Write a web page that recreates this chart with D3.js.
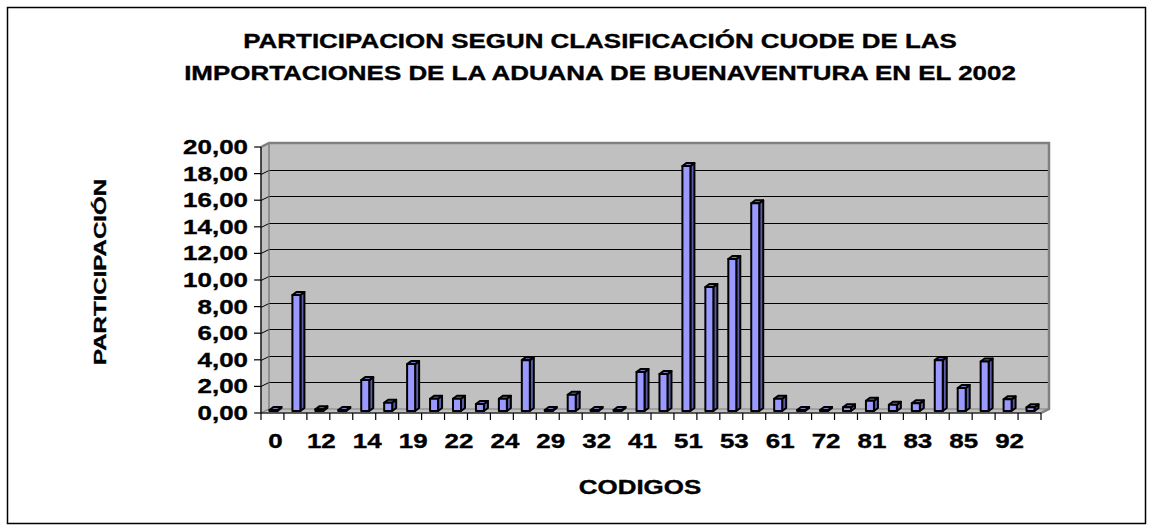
<!DOCTYPE html>
<html>
<head>
<meta charset="utf-8">
<script src="https://cdn.jsdelivr.net/npm/d3@7"></script>
<style>
  html, body { margin: 0; padding: 0; background: #fff; }
  svg { display: block; }
  text { font-family: "Liberation Sans", Arial, sans-serif; font-weight: bold; fill: #000; stroke: #000; stroke-width: 0.35px; }
</style>
</head>
<body>
<svg id="chart" width="1153" height="531"></svg>
<script>
// ---- data ----
const categories = ["0","11","12","13","14","15","19","21","22","23","24","25","29","31","32","33","41","42","51","52","53","55","61","71","72","73","81","82","83","84","85","91","92","93"];
const values = [0.05,8.8,0.2,0.1,2.4,0.7,3.6,1.0,1.0,0.6,1.0,3.9,0.05,1.3,0.05,0.05,3.0,2.85,18.5,9.4,11.5,15.7,1.0,0.15,0.05,0.35,0.85,0.55,0.65,3.9,1.8,3.8,0.95,0.35];
const yTicks = [0,2,4,6,8,10,12,14,16,18,20];
const titleLines = ["PARTICIPACION SEGUN CLASIFICACIÓN CUODE DE LAS", "IMPORTACIONES DE LA ADUANA DE BUENAVENTURA EN EL 2002"];
const xTitle = "CODIGOS";
const yTitle = "PARTICIPACIÓN";

// ---- layout ----
const svg = d3.select("#chart");
const X0 = 261, X1 = 1041, Y0 = 413, Y1 = 147;
const DX = 8, DY = -4;          // wall depth
const SX = 1.33;                // horizontal text stretch
const x = d3.scaleBand().domain(categories).range([X0, X1]).padding(0);
const y = d3.scaleLinear().domain([0, 20]).range([Y0, Y1]);
const fmt = v => d3.format(".2f")(v).replace(".", ",");

// outer border
svg.append("rect").attr("x", 7.5).attr("y", 7.5).attr("width", 1138).attr("height", 516)
  .attr("fill", "#fff").attr("stroke", "#000").attr("stroke-width", 1.5);

function stext(tx, ty, str, size, anchor, sx) {
  return svg.append("text")
    .attr("transform", `translate(${tx},${ty}) scale(${sx === undefined ? SX : sx},1)`)
    .attr("text-anchor", anchor).attr("font-size", size).text(str);
}

// title
stext(600, 48, titleLines[0], 19.5, "middle");
stext(600, 80, titleLines[1], 19.5, "middle");

// walls
const g = svg.append("g");
g.append("rect").attr("x", X0 + DX).attr("y", Y1 + DY).attr("width", X1 - X0).attr("height", Y0 - Y1)
  .attr("fill", "#C0C0C0");
g.append("polygon")
  .attr("points", [[X0, Y1], [X0 + DX, Y1 + DY], [X0 + DX, Y0 + DY], [X0, Y0]].join(" "))
  .attr("fill", "#C0C0C0").attr("stroke", "#808080").attr("stroke-width", 1);
g.append("polygon")
  .attr("points", [[X0, Y0], [X0 + DX, Y0 + DY], [X1 + DX, Y0 + DY], [X1, Y0]].join(" "))
  .attr("fill", "#C0C0C0").attr("stroke", "#808080").attr("stroke-width", 1);

// gridlines
yTicks.filter(v => v > 0 && v < 20).forEach(v => {
  const yy = Math.round(y(v)) + 0.5;
  g.append("line").attr("x1", X0 + DX).attr("x2", X1 + DX).attr("y1", yy + DY).attr("y2", yy + DY)
    .attr("stroke", "#000").attr("stroke-width", 1);
  g.append("line").attr("x1", X0).attr("x2", X0 + DX).attr("y1", yy).attr("y2", yy + DY)
    .attr("stroke", "#000").attr("stroke-width", 1);
});
g.append("polyline")
  .attr("points", [[X0, Y1], [X0 + DX, Y1 + DY], [X1 + DX, Y1 + DY], [X1 + DX, Y0 + DY], [X1, Y0]].join(" "))
  .attr("fill", "none").attr("stroke", "#808080").attr("stroke-width", 2.5);
g.append("line").attr("x1", X0 + DX).attr("x2", X0 + DX).attr("y1", Y1 + DY).attr("y2", Y0 + DY)
  .attr("stroke", "#808080").attr("stroke-width", 1);

// bars (3D columns)
const BW = 8, BDX = 4, BDY = -3;
const bars = svg.append("g").attr("stroke", "#000").attr("stroke-width", 2).attr("stroke-linejoin", "round");
categories.forEach((c, i) => {
  const cx = x(c) + x.bandwidth() / 2;
  const bx = cx - 3;
  const yb = Y0 - 2, yt = Math.min(y(values[i]) - 1, yb - 1);
  bars.append("polygon")
    .attr("points", [[bx + BW, yb], [bx + BW + BDX, yb + BDY], [bx + BW + BDX, yt + BDY], [bx + BW, yt]].join(" "))
    .attr("fill", "#5C5CA6");
  bars.append("polygon")
    .attr("points", [[bx, yt], [bx + BDX, yt + BDY], [bx + BW + BDX, yt + BDY], [bx + BW, yt]].join(" "))
    .attr("fill", "#7A7ACC");
  bars.append("rect").attr("x", bx).attr("y", yt).attr("width", BW).attr("height", yb - yt)
    .attr("fill", "#9999FF");
});

// axes
const axes = svg.append("g").attr("stroke", "#000").attr("stroke-width", 1.2);
axes.append("line").attr("x1", X0).attr("x2", X0).attr("y1", Y1).attr("y2", Y0);
axes.append("line").attr("x1", X0).attr("x2", X1).attr("y1", Y0).attr("y2", Y0);
yTicks.forEach(v => {
  axes.append("line").attr("x1", X0 - 7).attr("x2", X0).attr("y1", y(v)).attr("y2", y(v));
});
categories.concat(["__end"]).forEach((c, i) => {
  const xx = i < categories.length ? x(c) : X1;
  axes.append("line").attr("x1", xx).attr("x2", xx).attr("y1", Y0).attr("y2", Y0 + 7);
});

// tick labels
yTicks.forEach(v => stext(248, y(v) + 7, fmt(v), 19.5, "end"));
categories.forEach((c, i) => {
  if (i % 2 === 0) stext(x(c) + x.bandwidth() / 2 + 3, 448, c, 19.5, "middle");
});

// axis titles
stext(640, 494, xTitle, 19.5, "middle");
svg.append("text").attr("transform", "translate(106,272) rotate(-90)")
  .attr("text-anchor", "middle").attr("font-size", 17)
  .attr("textLength", 186).attr("lengthAdjust", "spacingAndGlyphs").text(yTitle);
</script>
</body>
</html>
